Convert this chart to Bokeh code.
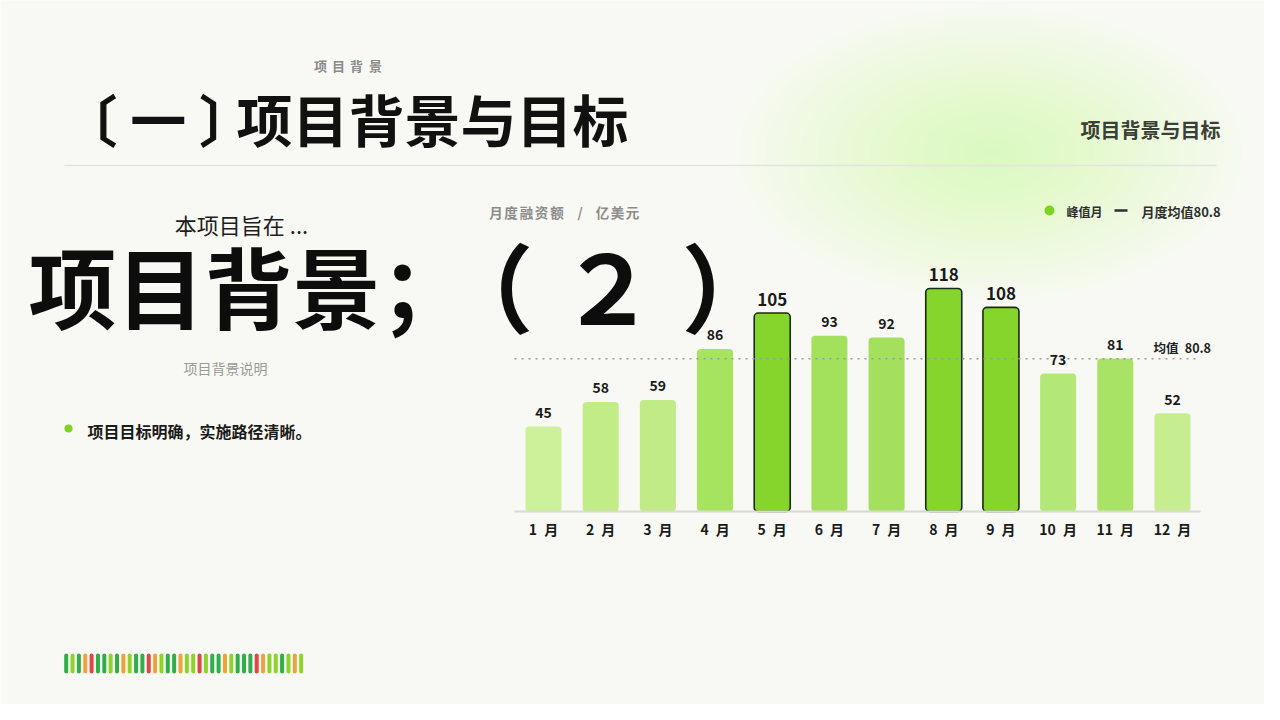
from bokeh.plotting import figure
from bokeh.models import ColumnDataSource, Range1d
from bokeh.core.properties import value
from bokeh.embed import file_html
from bokeh.resources import INLINE

# ---------------- data ----------------
SP = "\u2002"
months = [f"{m}{SP}月" for m in ["1", "2", "3", "4", "5", "6", "7", "8", "9", "10", "11", "12"]]
amounts = [45, 58, 59, 86, 105, 93, 92, 118, 108, 73, 81, 52]
bar_colors = ["#cdf09b", "#c2ec88", "#c1eb86", "#a6e35e", "#86d52c", "#a3e05c",
              "#a4e05e", "#86d52c", "#86d52c", "#b3e777", "#a9e366", "#c6ee91"]
chart_title_chars = ["月", "度", "融", "资", "额", "/", "亿", "美", "元"]
small_title_chars = ["项", "目", "背", "景"]
legend_peak = "峰值月"
mean_value = sum(amounts) / len(amounts)
legend_mean = "月度均值" + f"{mean_value:.1f}"
mean_label = "均值" + SP + f"{mean_value:.1f}"
stripe_pattern = "GLGORGGLGOLGGROLGGOLLRLGGOLGGGROLLGLOL"

FONT = value("Noto Sans CJK SC")
BG = "#f8f9f4"

# ---------------- geometry helpers (page px -> data) ----------------
W, H = 1264, 704
PX = 57.18           # px per month
X0 = 1 - 543 / PX
PY = 1.89            # px per unit
BASE = 511           # page y of zero


def X(px):
    return X0 + px / PX


def Y(py):
    return (BASE - py) / PY


p = figure(width=W, height=H, output_backend="svg", toolbar_location=None,
           x_range=Range1d(X(0), X(W)), y_range=Range1d(Y(H), Y(0)),
           x_axis_type=None, y_axis_type=None, min_border=0)
p.background_fill_color = BG
p.border_fill_color = BG
p.outline_line_color = None
p.grid.visible = False

# soft green glow
N = 30
for i in range(N):
    f = 1 - i / N
    p.ellipse(x=[X(990)], y=[Y(152)], width=[520 * f], height=[300 * f],
              width_units="screen", height_units="screen",
              fill_color="#d3e8b2", fill_alpha=0.02, line_color=None)


def txt(x, y, s, size, color, align="left", bold=True):
    p.text(x=[X(x)], y=[Y(y)], text=[s], text_font=FONT,
           text_font_size=f"{size}px", text_color=color, text_align=align,
           text_baseline="middle", text_font_style="bold" if bold else "normal")


# header
for c, cx in zip(small_title_chars, [320, 338, 356, 375]):
    txt(cx, 65, c, 13, "#8a8a8a", "center")
txt(61, 117, "〔 一 〕", 56, "#111111")
txt(236, 117, "项目背景与目标", 56, "#111111")
txt(1220, 129, "项目背景与目标", 20, "#3b4037", "right")
p.segment(x0=[X(64)], y0=[Y(165)], x1=[X(1216)], y1=[Y(165)], line_color="#e2e4de", line_width=1.5)

# left column
txt(241, 223, "本项目旨在 ...", 22, "#1e1e1e", "center", bold=False)
txt(28, 283, "项目背景；", 88, "#0d0d0d")
txt(485, 283, "（", 96, "#0d0d0d", "center")
txt(607, 283, "２", 96, "#0d0d0d", "center")
txt(729, 283, "）", 96, "#0d0d0d", "center")
txt(225, 367, "项目背景说明", 14, "#9a9a9a", "center", bold=False)
p.scatter(x=[X(68)], y=[Y(428)], size=8, fill_color="#7ed321", line_color=None)
txt(87, 430, "项目目标明确，实施路径清晰。", 16, "#1a1a1a")

# chart header / legend
for c, cx in zip(chart_title_chars, [495.5, 510.5, 526, 541, 556.5, 579.5, 602, 617, 632]):
    txt(cx, 211, c, 13.5, "#8c8c8c", "center")
p.scatter(x=[X(1049)], y=[Y(210)], size=10, fill_color="#7ed321", line_color=None)
txt(1066, 211, legend_peak, 12, "#2e2e2e")
p.segment(x0=[X(1114)], y0=[Y(210)], x1=[X(1127)], y1=[Y(210)], line_color="#2e2e2e", line_width=2.5)
txt(1141, 211, legend_mean, 13, "#2e2e2e")

# bars
idx = list(range(1, len(amounts) + 1))
top3 = sorted(amounts, reverse=True)[:3]
peak = [a in top3 for a in amounts]
src = ColumnDataSource(dict(
    x=idx, top=amounts, color=bar_colors, label=[str(a) for a in amounts],
    lc=["#1c2a12" if k else None for k in peak],
    fs=["17px" if k else "14px" for k in peak],
    month=months,
))
p.vbar(x="x", top="top", bottom=0, width=0.63, source=src, fill_color="color",
       line_color="lc", line_width=1.6, border_radius=4)

# baseline and mean line
p.segment(x0=[X(514)], y0=[0], x1=[X(1200)], y1=[0], line_color="#d8dad4", line_width=2)
p.segment(x0=[X(514)], y0=[mean_value], x1=[X(1200)], y1=[mean_value],
          line_color="#9a9a9a", line_width=1.3, line_dash="2 5")
txt(1153, 347, mean_label, 12.5, "#222222")

# value labels and months
p.text(x="x", y="top", text="label", source=src, text_font=FONT, text_font_size="fs",
       text_font_style="bold", text_color="#1a1a1a", text_align="center",
       text_baseline="middle", y_offset=-14)
p.text(x="x", y=Y(528), text="month", source=src, text_font=FONT, text_font_size="14px",
       text_font_style="bold", text_color="#1a1a1a", text_align="center",
       text_baseline="middle")

# decorative stripe
cmap = {"G": "#2fae4a", "L": "#8fd32a", "O": "#eea23a", "R": "#e04646"}
sx = [X(65.7 + 6.35 * i) for i in range(len(stripe_pattern))]
p.vbar(x=sx, bottom=Y(673), top=Y(653), width=4 / PX,
       fill_color=[cmap[c] for c in stripe_pattern], line_color=None, border_radius=2)

open("out.html", "w").write(file_html(p, INLINE))
